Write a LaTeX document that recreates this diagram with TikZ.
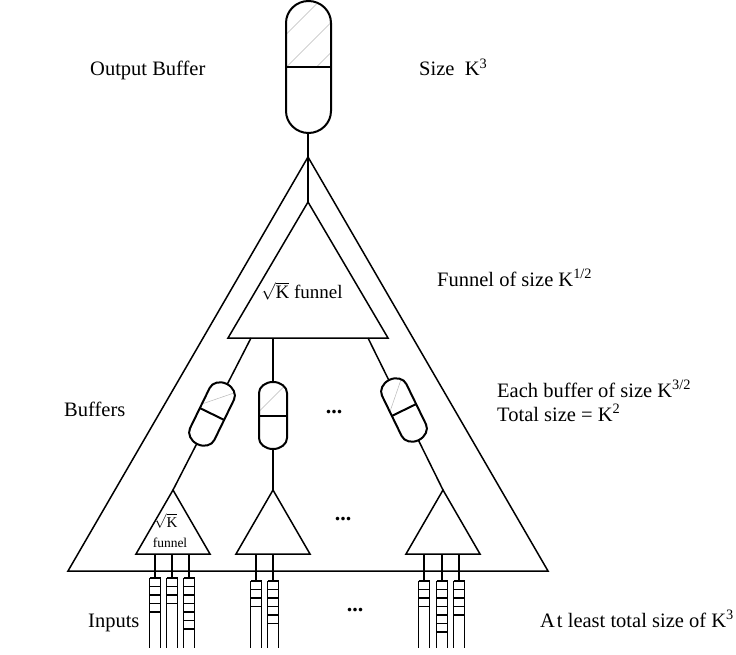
\documentclass[tikz,border=0pt]{standalone}
\usepackage{fontspec}
\setmainfont{Liberation Serif}
\newcommand\inputcol[4]{%
  \coordinate (#1) at (#2,#3);
  \draw[colline] (#2-5.5,#3) -- (#2-5.5,648) (#2+5.5,#3) -- (#2+5.5,648);
  \foreach \i in {0,...,#4} \draw[colline] (#2-5.5,#3+\i*8.5) -- (#2+5.5,#3+\i*8.5);
}
\begin{document}
\begin{tikzpicture}[x=1pt,y=-1pt,
  tri/.style={line width=1.5pt, line join=miter},
  wire/.style={line width=1.5pt},
  bufline/.style={line width=2pt, line join=round},
  hatchline/.style={gray!55, line width=0.5pt},
  colline/.style={line width=1.5pt},
  lbl/.style={font=\fontsize{20.5}{24}\selectfont, inner sep=0pt, anchor=base west},
  dots/.style={font=\fontsize{22}{24}\selectfont\bfseries, inner sep=0pt},
  pics/capsule/.style n args={4}{code={
    \path[fill=white] ({-#1},{-#2+#3}) .. controls ({-#1},{-#2+0.45*#3}) and ({-0.55*#1},{-#2}) .. (0,{-#2})
      .. controls ({0.55*#1},{-#2}) and ({#1},{-#2+0.45*#3}) .. ({#1},{-#2+#3}) -- ({#1},{#2-#3})
      .. controls ({#1},{#2-0.45*#3}) and ({0.55*#1},{#2}) .. (0,{#2})
      .. controls ({-0.55*#1},{#2}) and ({-#1},{#2-0.45*#3}) .. ({-#1},{#2-#3}) -- cycle;
    \begin{scope}
      \clip ({-#1},0) -- ({-#1},{-#2+#3}) .. controls ({-#1},{-#2+0.45*#3}) and ({-0.55*#1},{-#2}) .. (0,{-#2})
        .. controls ({0.55*#1},{-#2}) and ({#1},{-#2+0.45*#3}) .. ({#1},{-#2+#3}) -- ({#1},0) -- cycle;
      \foreach \k in {#4} \draw[hatchline] ({\k-200},200) -- ({\k+200},-200);
    \end{scope}
    \draw[bufline] ({-#1},{-#2+#3}) .. controls ({-#1},{-#2+0.45*#3}) and ({-0.55*#1},{-#2}) .. (0,{-#2})
      .. controls ({0.55*#1},{-#2}) and ({#1},{-#2+0.45*#3}) .. ({#1},{-#2+#3}) -- ({#1},{#2-#3})
      .. controls ({#1},{#2-0.45*#3}) and ({0.55*#1},{#2}) .. (0,{#2})
      .. controls ({-0.55*#1},{#2}) and ({-#1},{#2-0.45*#3}) .. ({-#1},{#2-#3}) -- cycle;
    \draw[bufline] ({-#1},0) -- ({#1},0);
  }}
]
\useasboundingbox (0,0) rectangle (736,655);

% big funnel
\coordinate (T) at (308,157);
\coordinate (TL) at (68,571);
\coordinate (TR) at (548,571);
\draw[tri] (T) -- (TL) -- (TR) -- cycle;

% inner sqrt(K) funnel
\coordinate (F) at (308,202);
\coordinate (FL) at (228,338);
\coordinate (FR) at (388,338);
\draw[tri] (F) -- (FL) -- (FR) -- cycle;
\node[font=\fontsize{19}{22}\selectfont, inner sep=0pt, anchor=base] (ftxt) at (302,298) {$\sqrt{\hbox{K}}$ funnel};

% output buffer link
\coordinate (OB) at (308,133);
\draw[wire] (OB) -- (F);

% small funnels
\coordinate (A1) at (173,490); \coordinate (A1L) at (136,554); \coordinate (A1R) at (210,554);
\coordinate (A2) at (273,490); \coordinate (A2L) at (236,554); \coordinate (A2R) at (310,554);
\coordinate (A3) at (443,490); \coordinate (A3L) at (406,554); \coordinate (A3R) at (480,554);
\draw[tri] (A1) -- (A1L) -- (A1R) -- cycle;
\draw[tri] (A2) -- (A2L) -- (A2R) -- cycle;
\draw[tri] (A3) -- (A3L) -- (A3R) -- cycle;
\node[font=\fontsize{15}{17}\selectfont, inner sep=0pt, anchor=base] (s1) at (166,527) {$\sqrt{\hbox{K}}$};
\node[font=\fontsize{13.5}{15}\selectfont, inner sep=0pt, anchor=base] (s2) at (170,547) {funnel};

% links from inner funnel to small funnels
\coordinate (B1) at (251,338);
\coordinate (B2) at (273,338);
\coordinate (B3) at (368,338);
\draw[wire] (B1) -- (A1);
\draw[wire] (B2) -- (A2);
\draw[wire] (B3) -- (A3);

% buffers
\pic at (308.5,67) {capsule={22.5}{66}{22}{-55,-22,8}};
\pic[rotate=-26] at (212,414) {capsule={13.5}{33.5}{11}{-18}};
\pic at (273,415.5) {capsule={14}{33.5}{11}{-18}};
\pic[rotate=26] at (404,410) {capsule={13.5}{33.5}{11}{-18}};

% inputs
\inputcol{c11}{155}{578}{4}
\inputcol{c12}{172}{578}{3}
\inputcol{c13}{189}{578}{6}
\inputcol{c21}{256}{581}{3}
\inputcol{c22}{273}{581}{5}
\inputcol{c31}{424}{581}{3}
\inputcol{c32}{442}{581}{6}
\inputcol{c33}{459}{581}{4}
\foreach \c/\x in {c11/155,c12/172,c13/189,c21/256,c22/273,c31/424,c32/442,c33/459}{
  \coordinate (b\c) at (\x,554);
  \draw[wire] (b\c) -- (\c);
}

% dots
\node[dots] (d1) at (334,412) {...};
\node[dots] (d2) at (343,519) {...};
\node[dots] (d3) at (355,610) {...};

% labels
\node[lbl] (l1) at (90,76) {Output Buffer};
\node[lbl] (l2) at (419,76) {Size\ \ K\textsuperscript{3}};
\node[lbl] (l3) at (437,286) {Funnel of size K\textsuperscript{1/2}};
\node[lbl] (l4) at (64,416) {Buffers};
\node[lbl] (l5) at (497,397) {Each buffer of size K\textsuperscript{3/2}};
\node[lbl] (l6) at (497,421) {Total size = K\textsuperscript{2}};
\node[lbl] (l7) at (88,627) {Inputs};
\node[lbl] (l8) at (540,627) {A\kern2pt t least total size of K\textsuperscript{3}};
\end{tikzpicture}
\end{document}
